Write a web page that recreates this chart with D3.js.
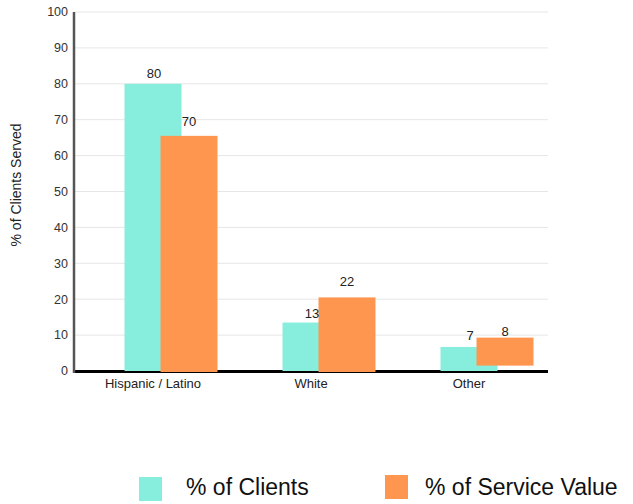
<!DOCTYPE html>
<html><head><meta charset="utf-8">
<script src="https://cdn.jsdelivr.net/npm/d3@7"></script>
<style>body{margin:0;background:#fff}svg{display:block;font-family:"Liberation Sans",Arial,sans-serif}</style>
</head><body><svg id="c" width="633" height="504"></svg>
<script>
const categories = ["Hispanic / Latino", "White", "Other"];
const clientsValues = [80, 13.5, 6.7];
const clientsLabels = [80, 13, 7];
const serviceLow = [0, 0, 1.5];
const serviceHigh = [65.5, 20.5, 9.3];
const serviceLabels = [70, 22, 8];
const yTicks = [0,10,20,30,40,50,60,70,80,90,100];
const seriesNames = ["% of Clients", "% of Service Value"];
const colors = ["#87eddc", "#ff9650"];

const svg = d3.select("#c");
const L = 74, R = 548, T = 12, B = 371;
const x = d3.scaleBand().domain(categories).range([L, R]).padding(0);
const y = d3.scaleLinear().domain([0, 100]).range([B, T]);
const bw = 57;

// gridlines
svg.append("g").selectAll("line").data(yTicks.filter(d => d > 0)).join("line")
  .attr("x1", L).attr("x2", R).attr("y1", d => y(d)).attr("y2", d => y(d))
  .attr("stroke", "#e6e6e6").attr("stroke-width", 1);

// y tick labels
svg.append("g").selectAll("text").data(yTicks).join("text")
  .attr("x", 68).attr("y", d => y(d)).attr("dy", "0.35em")
  .attr("text-anchor", "end").attr("font-size", 12.5).attr("fill", "#333")
  .text(d => d);

// y title
svg.append("text").attr("transform", "translate(21,185) rotate(-90)")
  .attr("text-anchor", "middle").attr("font-size", 14).attr("fill", "#222")
  .text("% of Clients Served");

const cx = d => x(d) + x.bandwidth() / 2;

// baseline
svg.append("line").attr("x1", L).attr("x2", R).attr("y1", y(0) + 0.5).attr("y2", y(0) + 0.5)
  .attr("stroke", "#000").attr("stroke-width", 3);

// clients bars
svg.append("g").selectAll("rect").data(categories).join("rect")
  .attr("x", d => cx(d) - 28.5).attr("width", bw)
  .attr("y", (d, i) => y(clientsValues[i]))
  .attr("height", (d, i) => y(0) - y(clientsValues[i]))
  .attr("fill", colors[0]);

// service bars
svg.append("g").selectAll("rect").data(categories).join("rect")
  .attr("x", d => cx(d) + 7.5).attr("width", bw)
  .attr("y", (d, i) => y(serviceHigh[i]))
  .attr("height", (d, i) => y(serviceLow[i]) - y(serviceHigh[i]) + (serviceLow[i] === 0 ? 1 : 0))
  .attr("fill", colors[1]);

// value labels
svg.append("g").selectAll("text").data(categories).join("text")
  .attr("x", d => cx(d) + 1).attr("y", (d, i) => y(clientsLabels[i]) - 6)
  .attr("text-anchor", "middle").attr("font-size", 13).attr("fill", "#222")
  .text((d, i) => clientsLabels[i]);
svg.append("g").selectAll("text").data(categories).join("text")
  .attr("x", d => cx(d) + 36).attr("y", (d, i) => y(serviceLabels[i]) - 6 + (i === 0 ? 12 : 0))
  .attr("text-anchor", "middle").attr("font-size", 13).attr("fill", "#222")
  .text((d, i) => serviceLabels[i]);

// y axis line
svg.append("line").attr("x1", L).attr("x2", L).attr("y1", T).attr("y2", y(0) + 2)
  .attr("stroke", "#555").attr("stroke-width", 2.5);

// x labels
svg.append("g").selectAll("text").data(categories).join("text")
  .attr("x", d => cx(d)).attr("y", 388)
  .attr("text-anchor", "middle").attr("font-size", 13).attr("fill", "#222")
  .text(d => d);

// legend
const legX = [139, 385], legY = [477, 475], legTX = [186, 425];
const leg = svg.append("g").selectAll("g").data(seriesNames).join("g");
leg.append("rect").attr("x", (d, i) => legX[i]).attr("y", (d, i) => legY[i])
  .attr("width", 23).attr("height", 24).attr("fill", (d, i) => colors[i]);
leg.append("text").attr("x", (d, i) => legTX[i]).attr("y", 495)
  .attr("font-size", 23).attr("fill", "#111").text(d => d);
</script></body></html>
